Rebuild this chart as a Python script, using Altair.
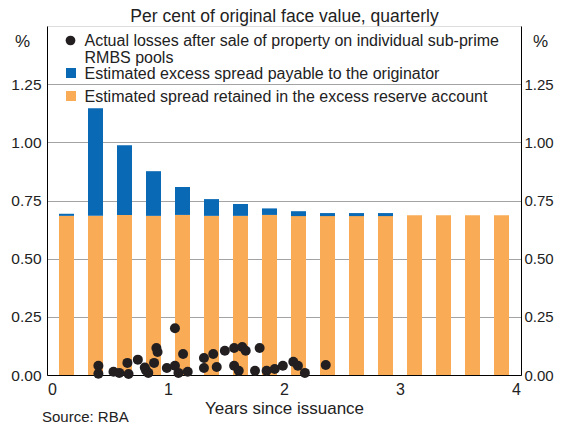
import altair as alt
import pandas as pd

# ---------------- data ----------------
quarters = [0.125, 0.375, 0.625, 0.875, 1.125, 1.375, 1.625, 1.875,
            2.125, 2.375, 2.625, 2.875, 3.125, 3.375, 3.625, 3.875]
retained = [0.684, 0.684, 0.688, 0.684, 0.688, 0.684, 0.684, 0.688,
            0.683, 0.683, 0.683, 0.683, 0.687, 0.687, 0.687, 0.687]
excess = [0.009, 0.463, 0.300, 0.192, 0.120, 0.072, 0.051, 0.028,
          0.021, 0.013, 0.013, 0.013, 0.0, 0.0, 0.0, 0.0]

loss_years = [0.40, 0.40, 0.53, 0.58, 0.65, 0.66, 0.74, 0.80, 0.81, 0.83,
              0.88, 0.90, 0.91, 0.99, 1.06, 1.06, 1.09, 1.13, 1.17, 1.31,
              1.31, 1.39, 1.42, 1.49, 1.57, 1.57, 1.61, 1.64, 1.67, 1.75,
              1.79, 1.85, 1.92, 1.99, 2.08, 2.12, 2.18, 2.36]
loss_values = [0.040, 0.005, 0.014, 0.009, 0.052, 0.004, 0.066, 0.032, 0.020, 0.009,
               0.052, 0.116, 0.099, 0.030, 0.201, 0.040, 0.009, 0.090, 0.014, 0.073,
               0.030, 0.090, 0.034, 0.104, 0.116, 0.040, 0.018, 0.120, 0.104, 0.018,
               0.116, 0.018, 0.026, 0.040, 0.057, 0.040, 0.009, 0.043]

series_names = ["Estimated spread retained in the excess reserve account",
                "Estimated excess spread payable to the originator"]
loss_label = "Actual losses after sale of property on individual sub-prime\nRMBS pools"
y_ticks = [0.0, 0.25, 0.5, 0.75, 1.0, 1.25]
x_ticks = [0, 1, 2, 3, 4]
subtitle = "Per cent of original face value, quarterly"
x_title = "Years since issuance"
unit = "%"
source = "Source: RBA"

# ---------------- style ----------------
ORANGE = "#F9AB56"
BLUE = "#0A69B4"
DARK = "#231F20"
TEXT = "#222222"
GRID = "#A3A3A3"
FONT = "Liberation Sans"

bars_df = pd.DataFrame({
    "t": quarters + quarters,
    "series": [series_names[0]] * len(quarters) + [series_names[1]] * len(quarters),
    "value": retained + excess,
    "ord": [0] * len(quarters) + [1] * len(quarters),
})
loss_df = pd.DataFrame({"t": loss_years, "v": loss_values})

x_scale = alt.Scale(domain=[0, 4], nice=False, zero=False)
y_scale = alt.Scale(domain=[0, 1.5], nice=False)

common_axis = dict(ticks=False, labelFont=FONT, labelColor=TEXT,
                   titleFont=FONT, titleFontSize=17, titleFontWeight="normal",
                   titleColor=TEXT, domainColor="black")

bars = alt.Chart(bars_df).mark_bar(size=15).encode(
    x=alt.X("t:Q", scale=x_scale,
            axis=alt.Axis(values=x_ticks, format="d", grid=False, labelFlush=False,
                          labelFontSize=16, labelPadding=19.5, labelBaseline="alphabetic",
                          title=x_title, titleX=237, titleY=38.5,
                          titleBaseline="alphabetic", **common_axis)),
    y=alt.Y("value:Q", stack="zero", scale=y_scale,
            axis=alt.Axis(values=y_ticks, format=".2f", grid=True, gridColor=GRID,
                          labelFontSize=15.5, labelPadding=6, title=unit, titleAngle=0,
                          titleX=-25, titleY=15, titleAlign="center",
                          titleBaseline="middle", **common_axis)),
    color=alt.Color("series:N", scale=alt.Scale(domain=series_names, range=[ORANGE, BLUE]),
                    legend=None),
    order=alt.Order("ord:Q"),
)

points = alt.Chart(loss_df).mark_circle(size=100, color=DARK, opacity=1).encode(
    x=alt.X("t:Q", scale=x_scale),
    y=alt.Y("v:Q", scale=y_scale,
            axis=alt.Axis(orient="right", values=y_ticks, format=".2f", grid=False,
                          labelFontSize=15, labelPadding=3, title=unit, titleAngle=0,
                          titleX=19, titleY=15, titleAlign="center",
                          titleBaseline="middle", **common_axis)),
)


def one(label):
    return pd.DataFrame({"label": [label]})


text_layers = [
    alt.Chart(one(subtitle)).mark_text(align="center", baseline="alphabetic",
                                       font=FONT, fontSize=17.5, color=TEXT)
    .encode(text="label:N", x=alt.value(237.5), y=alt.value(-4)),
    alt.Chart(one(loss_label)).mark_point(shape="circle", filled=True, size=95,
                                          opacity=1, color=DARK)
    .encode(x=alt.value(23.5), y=alt.value(14.5)),
    alt.Chart(one(loss_label)).mark_text(align="left", baseline="alphabetic",
                                         font=FONT, fontSize=16, color=TEXT,
                                         lineBreak="\n", lineHeight=17)
    .encode(text="label:N", x=alt.value(37.5), y=alt.value(20)),
    alt.Chart(one(series_names[1])).mark_point(shape="square", filled=True, size=100,
                                               opacity=1, color=BLUE)
    .encode(x=alt.value(24), y=alt.value(47)),
    alt.Chart(one(series_names[1])).mark_text(align="left", baseline="alphabetic",
                                              font=FONT, fontSize=16, color=TEXT)
    .encode(text="label:N", x=alt.value(37.5), y=alt.value(53)),
    alt.Chart(one(series_names[0])).mark_point(shape="square", filled=True, size=100,
                                               opacity=1, color=ORANGE)
    .encode(x=alt.value(24), y=alt.value(70)),
    alt.Chart(one(series_names[0])).mark_text(align="left", baseline="alphabetic",
                                              font=FONT, fontSize=16, color=TEXT)
    .encode(text="label:N", x=alt.value(37.5), y=alt.value(76)),
    alt.Chart(one(source)).mark_text(align="left", baseline="alphabetic",
                                     font=FONT, fontSize=15, color=TEXT)
    .encode(text="label:N", x=alt.value(-5), y=alt.value(396)),
]

chart = alt.layer(bars, points, *text_layers).resolve_scale(y="independent").properties(
    width=474,
    height=349,
    autosize=alt.AutoSizeParams(type="none"),
    padding={"left": 39, "top": 18, "right": 33, "bottom": 51},
).configure_view(stroke="black", strokeWidth=1).configure(font=FONT)

chart.save("out.html", embed_options={"renderer": "svg", "actions": False})
